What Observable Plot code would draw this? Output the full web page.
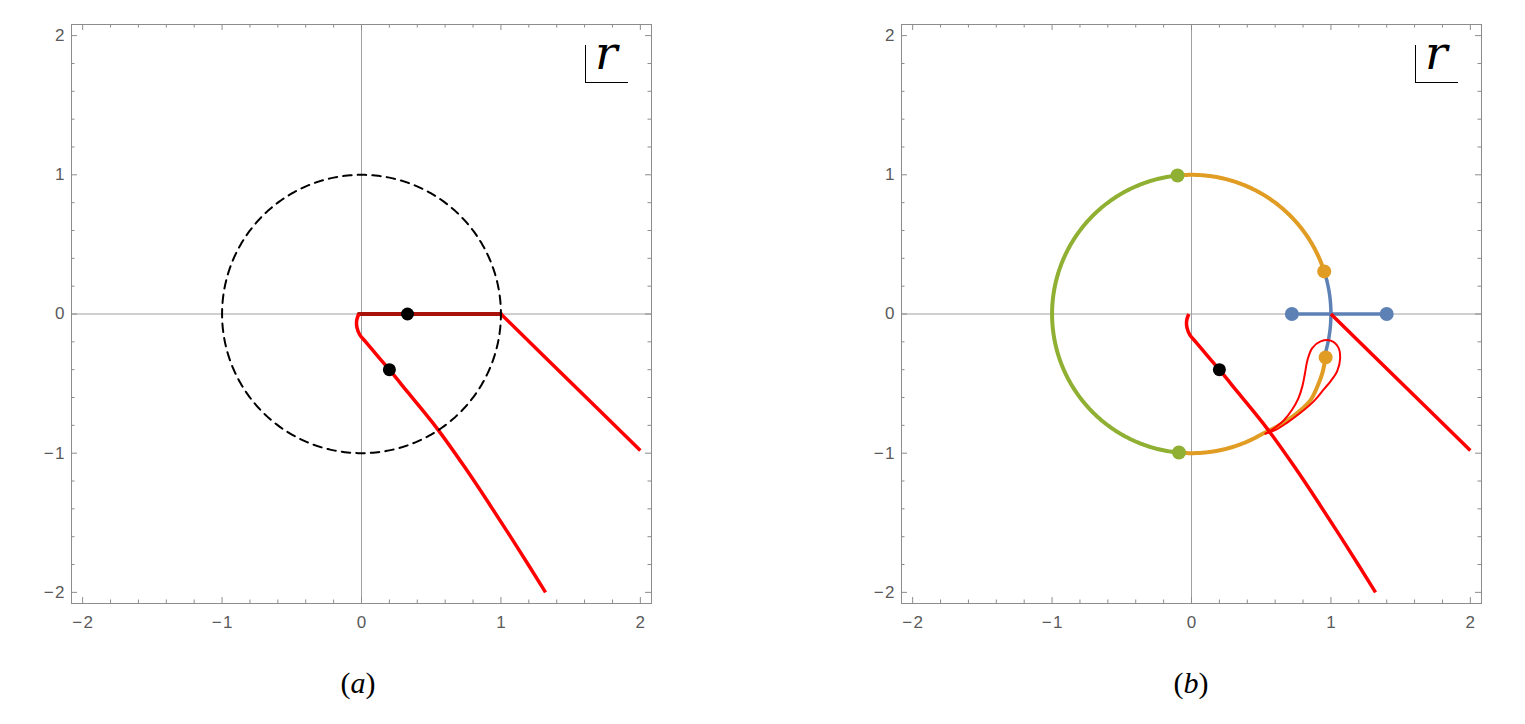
<!DOCTYPE html>
<html>
<head>
<meta charset="utf-8">
<script src="https://cdn.jsdelivr.net/npm/d3@7"></script>
<script src="https://cdn.jsdelivr.net/npm/@observablehq/plot@0.6"></script>
<style>
  html, body { margin: 0; padding: 0; background: #fff; }
  body { width: 1525px; height: 724px; position: relative; overflow: hidden; }
  .panel { position: absolute; top: 0; }
  .rlab { position: absolute; width: 43px; height: 38px; box-sizing: border-box;
          border-left: 1.5px solid #000; border-bottom: 1.5px solid #000; }
  .rlab span { position: absolute; left: 9px; top: -16px; font: italic 47px/47px "DejaVu Serif", serif; color: #000; }
  .cap { position: absolute; top: 668px; transform: translateX(-50%);
         font: 30px/30px "Liberation Serif", serif; color: #000; white-space: nowrap; }
</style>
</head>
<body>
<div id="pa" class="panel" style="left:0px"></div>
<div id="pb" class="panel" style="left:830px"></div>
<div class="rlab" style="left:585px; top:45px"><span>r</span></div>
<div class="rlab" style="left:1415px; top:45px"><span>r</span></div>
<div class="cap" style="left:358px">(<i>a</i>)</div>
<div class="cap" style="left:1191px">(<i>b</i>)</div>
<script>
// ---- tick values ----
const majorTicks = [-2, -1, 0, 1, 2];
const minorTicks = [-1.8, -1.6, -1.4, -1.2, -0.8, -0.6, -0.4, -0.2, 0.2, 0.4, 0.6, 0.8, 1.2, 1.4, 1.6, 1.8];

// ---- red curves (both panels) ----
const lowerX = [-0.02, -0.035, -0.032, -0.012, 0.03, 0.11, 0.2, 0.33, 0.54, 0.74, 0.92, 1.12, 1.32];
const lowerY = [0, -0.05, -0.10, -0.15, -0.20, -0.295, -0.4, -0.56, -0.82, -1.10, -1.37, -1.68, -2.0];
const rightX = [1, 1.5, 2];
const rightY = [0, -0.49, -0.98];

// ---- panel (a) ----
const segAX = [-0.02, 1];
const segAY = [0, 0];
const dotsAX = [0.33, 0.2];
const dotsAY = [0, -0.4];
const unitRadius = 1;

// ---- panel (b) ----
const greenArcDeg = [95.7, 264.3];
const orangeTopArcDeg = [17.8, 95.7];
const blueArcDeg = [-17.8, 17.8];
const orangeBottomArcDeg = [264.3, 300];
const orangeTailX = [0.519, 0.615, 0.687, 0.782, 0.854, 0.902, 0.938, 0.962];
const orangeTailY = [-0.858, -0.808, -0.763, -0.691, -0.619, -0.523, -0.427, -0.312];
const blueSegX = [0.72, 1.4];
const blueSegY = [0, 0];
const loopX = [0.53, 0.60, 0.663, 0.72, 0.765, 0.795, 0.815, 0.832, 0.866, 0.926, 0.998, 1.052, 1.066, 1.045, 1.00, 0.95, 0.878, 0.782, 0.687, 0.60, 0.53];
const loopY = [-0.86, -0.815, -0.763, -0.69, -0.61, -0.52, -0.42, -0.33, -0.245, -0.197, -0.191, -0.238, -0.32, -0.41, -0.48, -0.54, -0.626, -0.71, -0.78, -0.835, -0.86];
const blueDotsX = [0.72, 1.4];
const blueDotsY = [0, 0];
const orangeDotsX = [0.952, 0.962];
const orangeDotsY = [0.306, -0.312];
const greenDotsX = [-0.1, -0.09];
const greenDotsY = [0.995, -0.995];
const dotsBX = [0.2];
const dotsBY = [-0.4];

// colours
const RED = "#ff0000", DARKRED = "#a8120a", BLUE = "#5e81b5", ORANGE = "#e19c24", GREEN = "#8fb032";

const zip = (xs, ys) => xs.map((x, i) => ({x, y: ys[i]}));
const arc = (a0, a1, r = unitRadius) => {
  const n = Math.max(2, Math.ceil(Math.abs(a1 - a0) * 2));
  return d3.range(n + 1).map(i => {
    const a = (a0 + (a1 - a0) * i / n) * Math.PI / 180;
    return {x: r * Math.cos(a), y: r * Math.sin(a)};
  });
};
const fmt = d => d < 0 ? "\u2212\u200A" + Math.abs(d) : String(d);

const W = 671, H = 640, ML = 71, MT = 24, MR = 20, MB = 37;
const FW = W - ML - MR, FH = H - MT - MB;
const TICK = "#8c8c8c", LABEL = "#5a5a5a";
const FONT = "'Liberation Sans', Arial, sans-serif";

function frameMarks() {
  return [
    Plot.ruleX([0], {stroke: "#a0a0a0", strokeWidth: 1}),
    Plot.ruleY([0], {stroke: "#a0a0a0", strokeWidth: 1})
  ];
}
function tickMarks() {
  return [
    Plot.frame({stroke: TICK, strokeWidth: 1}),
    Plot.tickX(majorTicks, {x: d => d, insetTop: FH - 6, stroke: TICK}),
    Plot.tickX(majorTicks, {x: d => d, insetBottom: FH - 6, stroke: TICK}),
    Plot.tickX(minorTicks, {x: d => d, insetTop: FH - 3.5, stroke: TICK}),
    Plot.tickX(minorTicks, {x: d => d, insetBottom: FH - 3.5, stroke: TICK}),
    Plot.tickY(majorTicks, {y: d => d, insetRight: FW - 6, stroke: TICK}),
    Plot.tickY(majorTicks, {y: d => d, insetLeft: FW - 6, stroke: TICK}),
    Plot.tickY(minorTicks, {y: d => d, insetRight: FW - 3.5, stroke: TICK}),
    Plot.tickY(minorTicks, {y: d => d, insetLeft: FW - 3.5, stroke: TICK}),
    Plot.text(majorTicks, {x: d => d, text: fmt, frameAnchor: "bottom", lineAnchor: "top", dy: 12,
                           fontSize: 17, fontFamily: FONT, fill: LABEL}),
    Plot.text(majorTicks, {y: d => d, text: fmt, frameAnchor: "left", textAnchor: "end", dx: -7,
                           fontSize: 17, fontFamily: FONT, fill: LABEL})
  ];
}
function panel(marks) {
  return Plot.plot({
    width: W, height: H,
    marginLeft: ML, marginTop: MT, marginRight: MR, marginBottom: MB,
    x: {domain: [-2.08, 2.08], axis: null},
    y: {domain: [-2.08, 2.08], axis: null},
    style: {fontFamily: FONT, fontSize: "17px", color: LABEL, background: "transparent", overflow: "visible"},
    marks: [...frameMarks(), ...marks, ...tickMarks()]
  });
}

// panel (a)
const circleA = arc(0, -360);
document.getElementById("pa").append(panel([
  Plot.line(zip(segAX, segAY), {x: "x", y: "y", stroke: DARKRED, strokeWidth: 4}),
  Plot.line(zip(lowerX, lowerY), {x: "x", y: "y", stroke: RED, strokeWidth: 3.5, curve: "catmull-rom", strokeLinecap: "butt"}),
  Plot.line(zip(rightX, rightY), {x: "x", y: "y", stroke: RED, strokeWidth: 3.5, curve: "catmull-rom", strokeLinecap: "butt"}),
  Plot.line(circleA, {x: "x", y: "y", stroke: "#000", strokeWidth: 2, strokeDasharray: "8.5,6.07", strokeDashoffset: 3}),
  Plot.dot(zip(dotsAX, dotsAY), {x: "x", y: "y", r: 6.5, fill: "#000", stroke: "none"})
]));

// panel (b)
const orangeBottom = arc(orangeBottomArcDeg[0], orangeBottomArcDeg[1]).concat(zip(orangeTailX, orangeTailY).slice(1));
document.getElementById("pb").append(panel([
  Plot.line(arc(greenArcDeg[0], greenArcDeg[1]), {x: "x", y: "y", stroke: GREEN, strokeWidth: 4}),
  Plot.line(arc(orangeTopArcDeg[0], orangeTopArcDeg[1]), {x: "x", y: "y", stroke: ORANGE, strokeWidth: 4}),
  Plot.line(orangeBottom, {x: "x", y: "y", stroke: ORANGE, strokeWidth: 4, curve: "catmull-rom"}),
  Plot.line(arc(blueArcDeg[0], blueArcDeg[1]), {x: "x", y: "y", stroke: BLUE, strokeWidth: 3.5}),
  Plot.line(zip(blueSegX, blueSegY), {x: "x", y: "y", stroke: BLUE, strokeWidth: 3.5}),
  Plot.line(zip(lowerX, lowerY), {x: "x", y: "y", stroke: RED, strokeWidth: 3.5, curve: "catmull-rom", strokeLinecap: "butt"}),
  Plot.line(zip(rightX, rightY), {x: "x", y: "y", stroke: RED, strokeWidth: 3.5, curve: "catmull-rom", strokeLinecap: "butt"}),
  Plot.line(zip(loopX, loopY), {x: "x", y: "y", stroke: RED, strokeWidth: 2, curve: "catmull-rom"}),
  Plot.dot(zip(greenDotsX, greenDotsY), {x: "x", y: "y", r: 7, fill: GREEN, stroke: "none"}),
  Plot.dot(zip(orangeDotsX, orangeDotsY), {x: "x", y: "y", r: 7, fill: ORANGE, stroke: "none"}),
  Plot.dot(zip(blueDotsX, blueDotsY), {x: "x", y: "y", r: 7, fill: BLUE, stroke: "none"}),
  Plot.dot(zip(dotsBX, dotsBY), {x: "x", y: "y", r: 6.5, fill: "#000", stroke: "none"})
]));
</script>
</body>
</html>
